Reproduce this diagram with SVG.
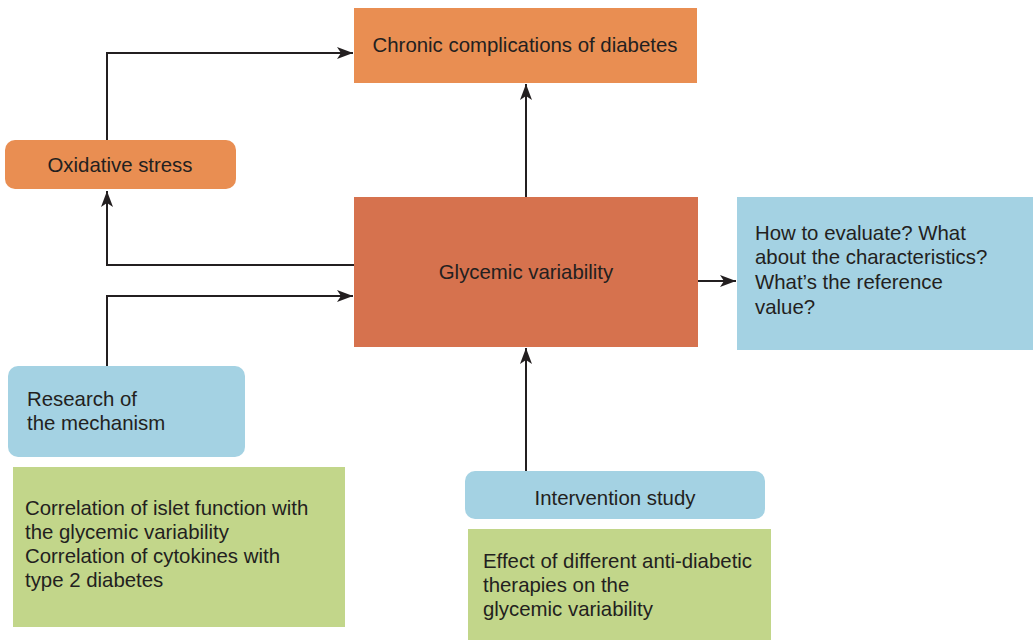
<svg xmlns="http://www.w3.org/2000/svg" width="1033" height="640" viewBox="0 0 1033 640">
<style>
text{font-family:"Liberation Sans",Arial,sans-serif;font-size:20.4px;fill:#231F20}
.c{text-anchor:middle}
.ln{fill:none;stroke:#231F20;stroke-width:2}
</style>
<defs>
<marker id="ah" viewBox="0 0 16 12" refX="16" refY="6" markerWidth="16" markerHeight="12" markerUnits="userSpaceOnUse" orient="auto">
<path d="M0,0 L16,6 L0,12 L4,6 Z" fill="#231F20"/>
</marker>
</defs>
<rect width="1033" height="640" fill="#fff"/>
<g id="connectors">
<path class="ln" d="M107,140 V53 H353" marker-end="url(#ah)"/>
<path class="ln" d="M354,265 H107 V191" marker-end="url(#ah)"/>
<path class="ln" d="M107,366 V296 H353" marker-end="url(#ah)"/>
<path class="ln" d="M526,197 V84" marker-end="url(#ah)"/>
<path class="ln" d="M526,471 V348" marker-end="url(#ah)"/>
<path class="ln" d="M698,281 H736" marker-end="url(#ah)"/>
</g>
<g id="chronic">
<rect x="354" y="8" width="343" height="75" fill="#E98E52"/>
<text class="c" x="525" y="52">Chronic complications of diabetes</text>
</g>
<g id="oxidative">
<rect x="5" y="140" width="231" height="49" rx="10" fill="#E98E52"/>
<text class="c" x="120" y="172">Oxidative stress</text>
</g>
<g id="glycemic">
<rect x="354" y="197" width="344" height="150" fill="#D6724E"/>
<text class="c" x="526" y="279">Glycemic variability</text>
</g>
<g id="evaluate">
<rect x="737" y="197" width="296" height="153" fill="#A4D2E3"/>
<text x="755" y="240">How to evaluate? What</text>
<text x="755" y="264">about the characteristics?</text>
<text x="755" y="289">What’s the reference</text>
<text x="755" y="314">value?</text>
</g>
<g id="research">
<rect x="8" y="366" width="237" height="91" rx="10" fill="#A4D2E3"/>
<text x="27" y="406">Research of</text>
<text x="27" y="430">the mechanism</text>
</g>
<g id="correlation">
<rect x="13" y="467" width="332" height="160" fill="#C2D68A"/>
<text x="25" y="515">Correlation of islet function with</text>
<text x="25" y="539">the glycemic variability</text>
<text x="25" y="563">Correlation of cytokines with</text>
<text x="25" y="587">type 2 diabetes</text>
</g>
<g id="intervention">
<rect x="465" y="471" width="300" height="48" rx="10" fill="#A4D2E3"/>
<text class="c" x="615" y="505">Intervention study</text>
</g>
<g id="effect">
<rect x="468" y="529" width="303" height="111" fill="#C2D68A"/>
<text x="483" y="568">Effect of different anti-diabetic</text>
<text x="483" y="592">therapies on the</text>
<text x="483" y="616">glycemic variability</text>
</g>
</svg>
